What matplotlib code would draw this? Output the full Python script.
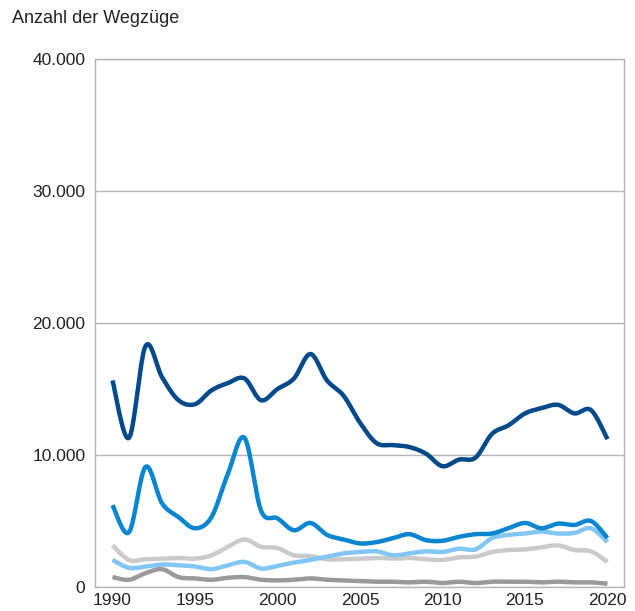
import numpy as np
import matplotlib
matplotlib.use("Agg")
import matplotlib.pyplot as plt
from matplotlib.ticker import FuncFormatter

years = list(range(1990, 2021))

dark_blue = [15650, 11300, 18250, 15900, 14150, 13850, 14900, 15450, 15800, 14150,
             15000, 15800, 17650, 15650, 14500, 12450, 10900, 10750, 10600, 10100,
             9150, 9650, 9800, 11600, 12250, 13150, 13550, 13800, 13150, 13400, 11200]
mid_blue = [6200, 4150, 9100, 6350, 5300, 4450, 5300, 8600, 11300, 5800,
            5200, 4300, 4850, 3950, 3600, 3300, 3400, 3700, 4000, 3550,
            3500, 3800, 4000, 4050, 4450, 4850, 4450, 4800, 4700, 5000, 3700]
light_blue = [2050, 1450, 1550, 1700, 1650, 1550, 1350, 1650, 1900, 1400,
              1600, 1850, 2050, 2300, 2550, 2650, 2700, 2400, 2550, 2700,
              2650, 2900, 2850, 3700, 3950, 4050, 4200, 4050, 4100, 4450, 3400]
light_grey = [3150, 2050, 2100, 2150, 2200, 2150, 2400, 3050, 3600, 3050,
              2950, 2400, 2350, 2100, 2100, 2150, 2200, 2150, 2200, 2100,
              2050, 2250, 2300, 2650, 2800, 2850, 3000, 3150, 2800, 2700, 1900]
dark_grey = [750, 550, 1050, 1350, 750, 650, 550, 700, 750, 550,
             500, 550, 650, 550, 500, 450, 400, 400, 350, 400,
             300, 400, 300, 400, 400, 400, 350, 400, 350, 350, 250]

y_ticks = [0, 10000, 20000, 30000, 40000]
x_ticks = [1990, 1995, 2000, 2005, 2010, 2015, 2020]


def smooth(x, y, n=20, tension=0.5):
    x = np.asarray(x, float)
    y = np.asarray(y, float)
    xs, ys = [], []
    for i in range(len(x) - 1):
        p0 = np.array([x[max(i - 1, 0)], y[max(i - 1, 0)]])
        p1 = np.array([x[i], y[i]])
        p2 = np.array([x[i + 1], y[i + 1]])
        p3 = np.array([x[min(i + 2, len(x) - 1)], y[min(i + 2, len(x) - 1)]])
        m1 = tension * (p2 - p0)
        m2 = tension * (p3 - p1)
        t = np.linspace(0, 1, n, endpoint=(i == len(x) - 2))
        h00 = 2 * t**3 - 3 * t**2 + 1
        h10 = t**3 - 2 * t**2 + t
        h01 = -2 * t**3 + 3 * t**2
        h11 = t**3 - t**2
        pts = (np.outer(h00, p1) + np.outer(h10, m1) + np.outer(h01, p2) + np.outer(h11, m2))
        xs.append(pts[:, 0])
        ys.append(pts[:, 1])
    return np.concatenate(xs), np.concatenate(ys)


plt.rcParams['font.family'] = ['Liberation Sans', 'DejaVu Sans']

fig = plt.figure(figsize=(6.35, 6.11), dpi=100)
ax = fig.add_axes([95 / 635, 1 - 587 / 611, (624 - 95) / 635, (587 - 59) / 611])

series = [
    (dark_grey, '#9a9a9a'),
    (light_grey, '#cacaca'),
    (light_blue, '#82c6f5'),
    (mid_blue, '#0a86d0'),
    (dark_blue, '#004a8c'),
]
for vals, col in series:
    sx, sy = smooth(years, vals)
    ax.plot(sx, sy, color=col, lw=3.2, solid_capstyle='butt', solid_joinstyle='round', zorder=3)

ax.set_xlim(1988.94, 2021.0)
ax.set_ylim(0, 40000)
ax.set_yticks(y_ticks)
ax.set_xticks(x_ticks)
ax.yaxis.set_major_formatter(FuncFormatter(lambda v, p: f"{int(v):,}".replace(",", ".")))
ax.grid(axis='y', color='#b4b4b4', lw=1.0, zorder=1)
ax.grid(axis='x', visible=False)
for s in ax.spines.values():
    s.set_color('#b4b4b4')
    s.set_linewidth(1.0)
ax.tick_params(length=0, labelsize=12.5, colors='#222222', pad=7)
ax.tick_params(axis='x', pad=4)

fig.text(12 / 635, 1 - 10 / 611, 'Anzahl der Wegzüge', fontsize=13, color='#222222',
         ha='left', va='top')

fig.savefig('out.png', dpi=100)
